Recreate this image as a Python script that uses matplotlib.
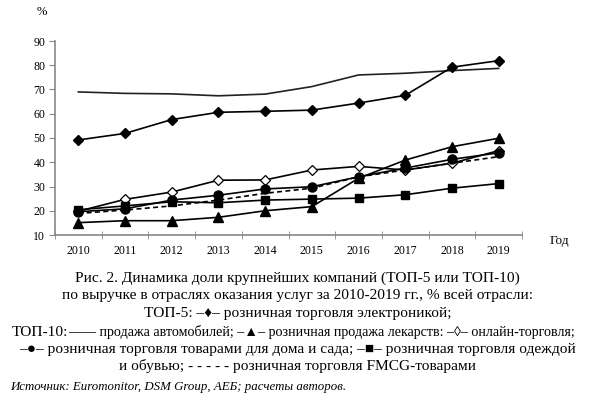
import numpy as np
from matplotlib import pyplot as plt

plt.rcParams['font.family'] = ['Liberation Serif', 'DejaVu Sans']

#Data
years = ['2010', '2011', '2012', '2013', '2014', '2015', '2016', '2017', '2018', '2019']
cars = [69.0, 68.4, 68.2, 67.4, 68.1, 71.2, 76.0, 76.7, 77.8, 78.7]
electronics = [49.2, 51.9, 57.6, 60.6, 61.0, 61.5, 64.4, 67.6, 79.2, 81.9]
pharma = [15.1, 15.9, 15.9, 17.3, 20.0, 21.7, 33.4, 40.9, 46.4, 49.9]
online = [19.8, 24.7, 27.7, 32.6, 32.7, 36.8, 38.3, 36.8, 39.6, 44.8]
homeGarden = [19.6, 20.8, 24.4, 26.4, 29.0, 29.9, 34.0, 37.6, 41.2, 43.9]
clothing = [20.4, 22.0, 23.7, 23.3, 24.4, 24.8, 25.2, 26.6, 29.3, 31.2]
fmcg = [18.9, 20.3, 22.0, 24.4, 27.2, 29.3, 34.0, 36.8, 39.6, 42.3]

x = np.arange(len(years))
lw = 1.2

fig = plt.figure(figsize=(5.95, 4.0), dpi=100)
ax = fig.add_axes([0.0924, 0.4125, 0.785, 0.485])

ax.plot(x, cars, color='#222222', lw=lw)
ax.plot(x, electronics, color='black', lw=lw, marker='D', markersize=5)
ax.plot(x, pharma, color='black', lw=lw, marker='^', markersize=6.5)
ax.plot(x, online, color='black', lw=lw, marker='D', markersize=5.5, markerfacecolor='white', markeredgewidth=0.9)
ax.plot(x, homeGarden, color='black', lw=lw, marker='o', markersize=6.5)
ax.plot(x, clothing, color='black', lw=lw, marker='s', markersize=6)
ax.plot(x, fmcg, color='black', lw=lw, ls=(0, (3, 2)))

ax.set_xlim(-0.5, len(years) - 0.5)
ax.set_ylim(10, 90)
ax.set_yticks(np.arange(10, 91, 10))
ax.set_xticks(x)
ax.set_xticklabels(years)
ax.set_xticks(np.arange(-0.5, len(years), 1), minor=True)
ax.tick_params(axis='x', which='major', length=0, labelsize=8.5, pad=7)
ax.tick_params(axis='x', which='minor', direction='inout', length=6, color='#888888')
ax.tick_params(axis='y', length=4, color='#888888', labelsize=8.5, pad=3)

for side in ['top', 'right']:
    ax.spines[side].set_visible(False)
for side in ['left', 'bottom']:
    ax.spines[side].set_color('#888888')
    ax.spines[side].set_linewidth(1.2)

fig.text(42 / 595, 1 - 12 / 400, '%', fontsize=9, ha='center', va='center')
fig.text(559 / 595, 1 - 241 / 400, 'Год', fontsize=9.5, ha='center', va='center')

#Caption
capSize = 11.1
captionLines = [
    (278, 'Рис. 2. Динамика доли крупнейших компаний (ТОП-5 или ТОП-10)'),
    (296, 'по выручке в отраслях оказания услуг за 2010-2019 гг., % всей отрасли:'),
    (314, 'ТОП-5: –♦– розничная торговля электроникой;'),
    (349, '–●– розничная торговля товарами для дома и сада; –■– розничная торговля одеждой'),
    (366, 'и обувью; - - - - - розничная торговля FMCG-товарами'),
]
for yPix, txt in captionLines:
    fig.text(0.5, 1 - yPix / 400, txt, fontsize=capSize, ha='center', va='center')

fig.text(12 / 595, 1 - 332 / 400, 'ТОП-10:', fontsize=capSize, ha='left', va='center')
fig.text(68 / 595, 1 - 332 / 400,
         '—— продажа автомобилей; –▲– розничная продажа лекарств: –◊– онлайн-торговля;',
         fontsize=10.1, ha='left', va='center')

fig.text(10 / 595, 1 - 387 / 400, 'Источник: Euromonitor, DSM Group, АЕБ; расчеты авторов.',
         fontsize=9.3, style='italic', ha='left', va='center')

fig.savefig('out.png', dpi=100)
plt.close('all')
